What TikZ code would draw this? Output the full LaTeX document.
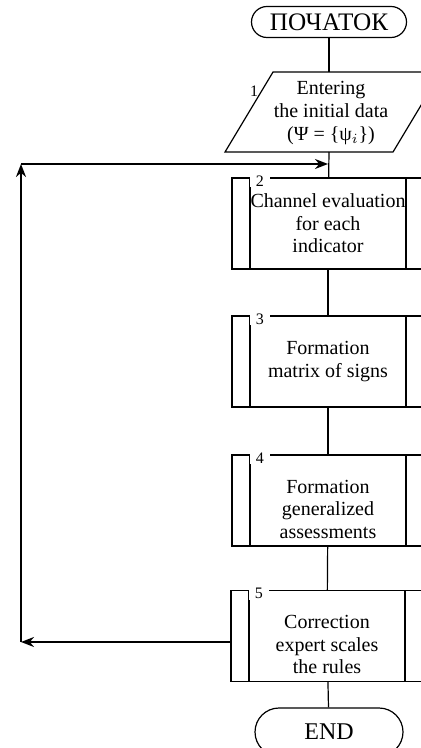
\documentclass[tikz,border=0pt]{standalone}
\usepackage{fontspec}
\setmainfont{Liberation Serif}
\usetikzlibrary{shapes.misc,arrows.meta}
\tikzset{
  termbox/.style={draw, rounded rectangle, line width=0.6pt, minimum width=79.5pt,
    minimum height=15.5pt, inner sep=1pt, font=\fontsize{12.6}{12.6}\selectfont},
  iotext/.style={align=center, inner sep=0pt, font=\fontsize{10}{11.3}\selectfont},
  procbox/.style={draw, rectangle, minimum width=96pt, minimum height=45.5pt,
    align=center, line width=0.6pt, font=\fontsize{10}{11.3}\selectfont,
    path picture={
      \draw[line width=0.6pt] ([xshift=9pt]path picture bounding box.north west) -- ([xshift=9pt]path picture bounding box.south west);
      \draw[line width=0.6pt] ([xshift=-9pt]path picture bounding box.north east) -- ([xshift=-9pt]path picture bounding box.south east);
    }},
  lowtext/.style={text height=38pt},
  numlbl/.style={fill=white, inner xsep=3pt, inner ysep=0.5pt, anchor=west,
    font=\fontsize{8}{8}\selectfont},
  flow/.style={line width=0.6pt},
  back/.style={line width=1.4pt, -{Stealth[length=6.5pt,width=5pt]}}
}
\begin{document}
\begin{tikzpicture}[x=0.5pt, y=-0.5pt]
    \useasboundingbox (0,0) rectangle (420,748);
    \node [termbox] (start) at (329,22) {ПОЧАТОК};
    \node [iotext] (inp) at (331,113) {Entering\\the initial data\\(Ψ = \{ψ$_{i}$\})};
    % input parallelogram
    \draw [flow] (225,152) -- (393,152) -- (441,72) -- (273,72) -- cycle;
    \coordinate (inptop) at (329,72);
    \coordinate (inpbot) at (329,152);
    \node [procbox] (eval) at (328,223.5) {Channel evaluation\\for each\\indicator};
    \node [procbox] (signs) at (328,361.5) {Formation\\matrix of signs};
    \node [procbox, lowtext] (gen) at (328,500.5) {Formation\\generalized\\assessments};
    \node [procbox, lowtext] (corr) at (327,636) {Correction\\expert scales\\the rules};
    \node [termbox, font=\fontsize{12}{12}\selectfont, minimum width=76pt, minimum height=24pt] (end) at (329,732) {END};

    % block numbers
    \node [font=\fontsize{8}{8}\selectfont] (n1) at (254,91) {1};
    \node [numlbl] (n2) at ([xshift=9pt,yshift=-1.75pt]eval.north west) {2};
    \node [numlbl] (n3) at ([xshift=9pt,yshift=-1.75pt]signs.north west) {3};
    \node [numlbl] (n4) at ([xshift=9pt,yshift=-1.75pt]gen.north west) {4};
    \node [numlbl] (n5) at ([xshift=9pt,yshift=-1.75pt]corr.north west) {5};

    \draw [flow] (start) -- (inptop);
    \draw [flow] (inpbot) -- (eval);
    \draw [flow] (eval) -- (signs);
    \draw [flow] (signs) -- (gen);
    \draw [flow] (gen) -- (corr);
    \draw [flow] (corr) -- (end);

    % feedback loop
    \coordinate (c1) at (21,642);
    \coordinate (c2) at (21,164);
    \coordinate (c3) at (328,164);
    \draw [back] (c1 -| corr.west) -- (c1);
    \draw [back] (c1) -- (c2);
    \draw [back] (c2) -- (c3);
  \end{tikzpicture}
\end{document}
